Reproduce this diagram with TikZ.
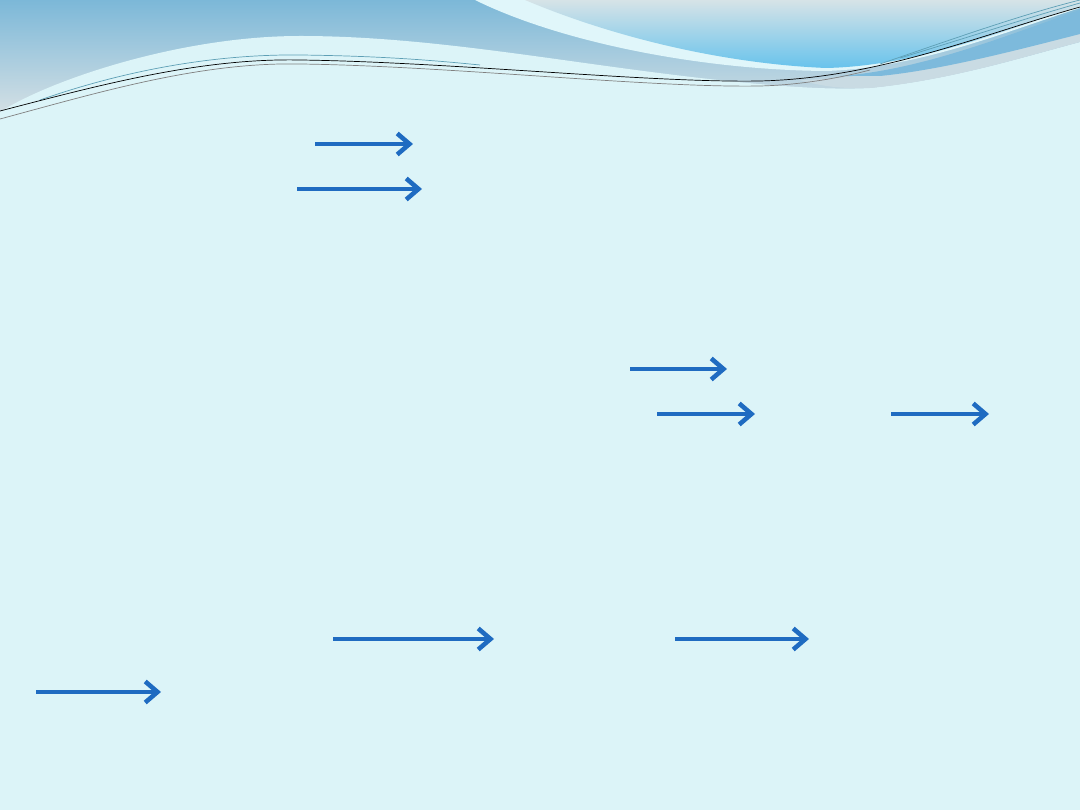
\documentclass[tikz,border=0pt]{standalone}
\usepackage[svgnames]{xcolor}
\usepackage{tikz}
\usetikzlibrary{arrows.meta}
\definecolor{haikei}{HTML}{DCF4F8}
\definecolor{yajirushi}{HTML}{1F6BC1}
\definecolor{sora}{HTML}{7CB8D8}
\definecolor{hai}{HTML}{D9E2E5}
\definecolor{mizu}{HTML}{68C3EC}
\definecolor{usumizu}{HTML}{D6E3E7}
\definecolor{hakui}{HTML}{E0F6FA}
\definecolor{aoobi}{HTML}{7DBADC}
\definecolor{haiobi}{HTML}{C9DBE3}
\definecolor{sen}{HTML}{5E9FB5}

\begin{document}
\begin{tikzpicture}[x=0.02cm, y=-0.02cm,
  yaji/.style={yajirushi, line width=2.6pt,
    -{Straight Barb[length=7pt, width=12pt, line width=2.6pt]}}]
\useasboundingbox (0,0) rectangle (1080,810);
\clip (0,0) rectangle (1080,810);

%%背景
\fill [haikei] (0,0) rectangle (1080,810);
\shade [top color=sora, bottom color=hai] (0,0) rectangle (1080,120);
   %上部の"グラデーションの帯"

%%左の明るい波
\fill [haikei] (0,112) .. controls (50,80) and (180,36) .. (300,36)
   .. controls (430,36) and (560,62) .. (700,78)
   .. controls (780,87) and (830,90) .. (870,88)
   .. controls (950,80) and (1020,58) .. (1080,42) -- (1080,130) -- (0,130) -- cycle;

%%右上のふくらみ
\fill [hakui] (475,0) .. controls (560,42) and (700,70) .. (826,71)
   .. controls (920,68) and (1010,30) .. (1080,8) -- (1080,0) -- cycle;
\shade [top color=usumizu, bottom color=mizu] (525,0) .. controls (620,40) and (730,64) .. (826,68)
   .. controls (920,66) and (1010,28) .. (1080,6) -- (1080,0) -- cycle;

%%右の帯
\fill [haiobi] (800,80) .. controls (900,78) and (1000,45) .. (1080,14)
   -- (1080,42) .. controls (1020,58) and (950,80) .. (870,88) .. controls (840,89) and (820,86) .. (800,80) -- cycle;
\fill [aoobi] (840,76) .. controls (920,70) and (1000,38) .. (1080,10)
   -- (1080,34) .. controls (1010,52) and (940,70) .. (880,76) -- cycle;

%%細い線
\draw [sen, thin] (40,100) .. controls (120,72) and (210,54) .. (300,55) .. controls (380,56) and (430,60) .. (480,65);
\draw [gray, thin] (0,119) .. controls (100,92) and (200,62) .. (300,64)
   .. controls (450,66) and (650,88) .. (760,86) .. controls (800,85) and (840,78) .. (870,70);
\draw [black, thin] (0,111) .. controls (100,85) and (200,58) .. (300,60)
   .. controls (450,62) and (650,83) .. (760,81) .. controls (880,78) and (980,35) .. (1080,7);
\draw [sen, thin] (880,64) .. controls (950,40) and (1020,15) .. (1080,0);
\draw [sen, thin] (900,58) .. controls (960,40) and (1020,20) .. (1080,3);

%%矢印
\coordinate (a1) at (315,144); \coordinate (b1) at (413,144);
\coordinate (a2) at (297,189); \coordinate (b2) at (422,189);
\coordinate (a3) at (630,369); \coordinate (b3) at (727,369);
\coordinate (a4) at (657,414); \coordinate (b4) at (755,414);
\coordinate (a5) at (891,414); \coordinate (b5) at (989,414);
\coordinate (a6) at (333,639); \coordinate (b6) at (494,639);
\coordinate (a7) at (675,639); \coordinate (b7) at (809,639);
\coordinate (a8) at (36,692);  \coordinate (b8) at (161,692);
\draw [yaji] (a1) -- (b1);
\draw [yaji] (a2) -- (b2);
\draw [yaji] (a3) -- (b3);
\draw [yaji] (a4) -- (b4);
\draw [yaji] (a5) -- (b5);
\draw [yaji] (a6) -- (b6);
\draw [yaji] (a7) -- (b7);
\draw [yaji] (a8) -- (b8);
\end{tikzpicture}
\end{document}
